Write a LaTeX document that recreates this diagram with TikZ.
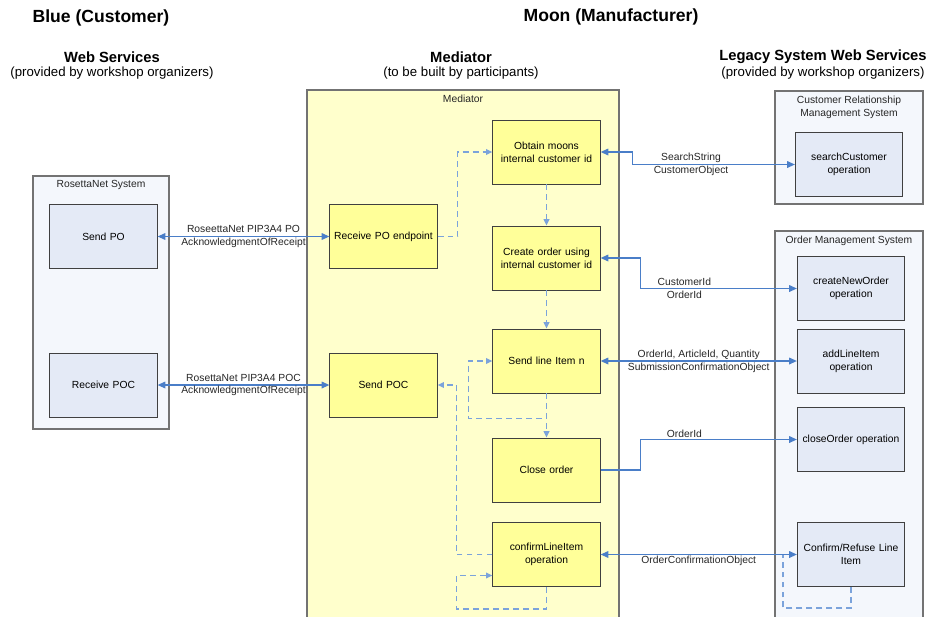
\documentclass[tikz,border=0pt]{standalone}
\usepackage{fontspec}
\setmainfont{Liberation Sans}
\usepackage{xcolor}
\usepackage{tikz}
\usetikzlibrary{arrows.meta, positioning}

\definecolor{medYellow}{HTML}{FFFFCC}
\definecolor{opYellow}{HTML}{FFFF99}
\definecolor{sysBlue}{HTML}{F4F7FC}
\definecolor{opBlue}{HTML}{E4EAF6}
\definecolor{lineBlue}{HTML}{4A7EC8}
\definecolor{dashBlue}{HTML}{7BA3DB}

\newcommand\smallfont{\fontsize{8.8}{11}\selectfont}

\tikzstyle{link} = [line width=1pt,{Triangle[length=2.3mm,width=2mm]}-{Triangle[length=2.3mm,width=2mm]},draw=lineBlue]
\tikzstyle{linkto} = [line width=1pt,-{Triangle[length=2.3mm,width=2mm]},draw=lineBlue]
\tikzstyle{flow} = [line width=1.1pt,-{Triangle[length=1.9mm,width=1.7mm]},draw=dashBlue,dash pattern=on 5pt off 3.5pt]
\tikzstyle{flowline} = [line width=1.1pt,draw=dashBlue,dash pattern=on 5pt off 3.5pt]
\tikzstyle{medtask} = [rectangle, minimum width=3.21cm, minimum height=1.92cm, inner xsep=1pt, text centered, text width=3.15cm, draw=black!75, line width=0.8pt, fill=opYellow, font=\smallfont]
\tikzstyle{wsop} = [rectangle, minimum width=3.21cm, minimum height=1.92cm, inner xsep=1pt, text centered, text width=3.15cm, draw=black!75, line width=0.8pt, fill=opBlue, font=\smallfont]
\tikzset{
	container/.style = {rectangle, draw=black!55, line width=0.9pt, inner sep=0pt},
	heading/.style = {font=\fontsize{15}{18}\selectfont\bfseries},
	subheading/.style = {font=\fontsize{12.6}{15}\selectfont\bfseries},
	subnote/.style = {font=\fontsize{11.3}{13}\selectfont},
	msg/.style = {font=\smallfont, align=center, text=black!85},
}

\begin{document}
\begin{tikzpicture}[x=0.03cm, y=-0.03cm]
\useasboundingbox (0,0) rectangle (929,616);
\clip (0,0) rectangle (929,616);
%----------------------------------------------------------------------------
% Headings
\node (blueHead) [heading] at (101,18) {Blue (Customer)};
\node (moonHead) [heading] at (611,17) {Moon (Manufacturer)};

\node (wsHead) [subheading] at (112,57) {Web Services};
\node (wsNote) [subnote] at (112,73) {(provided by workshop organizers)};
\node (medHead) [subheading] at (461,57) {Mediator};
\node (medNote) [subnote] at (461,73) {(to be built by participants)};
\node (legacyHead) [subheading] at (823,57) {Legacy System Web Services};
\node (legacyNote) [subnote] at (823,73) {(provided by workshop organizers)};

%----------------------------------------------------------------------------
% Systems
\node (rosettaSys) [container, fill=sysBlue, minimum width=4.08cm, minimum height=7.59cm] at (101,302.5) {};
\node (mediatorSys) [container, fill=medYellow, minimum width=9.36cm, minimum height=16.5cm] at (463,365) {};
\node (crmSys) [container, fill=sysBlue, minimum width=4.44cm, minimum height=3.39cm] at (849,147.5) {};
\node (orderSys) [container, fill=sysBlue, minimum width=4.44cm, minimum height=12.27cm] at (849,435.5) {};

\node (rosettaLbl) [msg, below=1pt of rosettaSys.north] {RosettaNet System};
\node (mediatorLbl) [msg, below=1pt of mediatorSys.north] {Mediator};
\node (crmLbl) [msg, below=1pt of crmSys.north] {Customer Relationship\\Management System};
\node (orderLbl) [msg, below=1pt of orderSys.north] {Order Management System};

%----------------------------------------------------------------------------
% Operations
\node (sendPO) [wsop] at (103.5,236.5) {Send PO};
\node (recvPOC) [wsop] at (103.5,385) {Receive POC};

\node (recvPO) [medtask] at (383.5,236.5) {Receive PO endpoint};
\node (sendPOC) [medtask] at (383.5,385) {Send POC};
\node (obtainId) [medtask] at (546.5,152) {Obtain moons\\internal customer id};
\node (createOrder) [medtask] at (546.5,258) {Create order using\\internal customer id};
\node (sendLine) [medtask] at (546.5,361) {Send line Item n};
\node (closeOrder) [medtask] at (546.5,470) {Close order};
\node (confirmLI) [medtask] at (546.5,554.5) {confirmLineItem\\operation};

\node (searchCust) [wsop] at (849,164.5) {searchCustomer\\operation};
\node (newOrder) [wsop] at (851,288.5) {createNewOrder\\operation};
\node (addLine) [wsop] at (851,361) {addLineItem\\operation};
\node (closeOp) [wsop] at (851,439.5) {closeOrder operation};
\node (confirmRef) [wsop] at (851,554.5) {Confirm/Refuse Line\\Item};

%----------------------------------------------------------------------------
% Messages
\draw [link] (sendPO) -- node[msg] {RoseettaNet PIP3A4 PO\\AcknowledgmentOfReceipt} (recvPO);
\draw [link] (recvPOC) -- node[msg] {RosettaNet PIP3A4 POC\\AcknowledgmentOfReceipt} (sendPOC);

\draw [link] (obtainId.east) -- ++(32,0) |- node[msg, pos=0.68] {SearchString\\CustomerObject} (searchCust.west);
\draw [link] (createOrder.east) -- ++(40,0) |- node[msg, pos=0.64] {CustomerId\\OrderId} (newOrder.west);
\draw [link] (sendLine) -- node[msg] {OrderId, ArticleId, Quantity\\SubmissionConfirmationObject} (addLine);
\draw [linkto] (closeOrder.east) -- ++(40,0) |- node[msg, pos=0.64, anchor=south, inner sep=1pt] {OrderId} (closeOp.west);
\draw [link] (confirmLI) -- node[msg, anchor=north, inner sep=1pt] {OrderConfirmationObject} (confirmRef);

%----------------------------------------------------------------------------
% Mediator flow
\draw [flow] (recvPO.east) -- ++(20,0) |- (obtainId.west);
\draw [flow] (obtainId) -- (createOrder);
\draw [flow] (createOrder) -- (sendLine);
\draw [flow] (sendLine) -- (closeOrder);
\draw [flow] (sendLine.south) -- ++(0,25) -- ++(-78,0) |- (sendLine.west);
\draw [flow] (confirmLI.west) -- ++(-36,0) |- (sendPOC.east);
\draw [flow] (confirmLI.south) -- ++(0,22) -- ++(-90,0) |- ([yshift=-6.3mm]confirmLI.west);

\coordinate (refuseLoop) at (783,555);
\draw [flowline] (confirmRef.south) -- ++(0,21) -| (refuseLoop);

\end{tikzpicture}
\end{document}
